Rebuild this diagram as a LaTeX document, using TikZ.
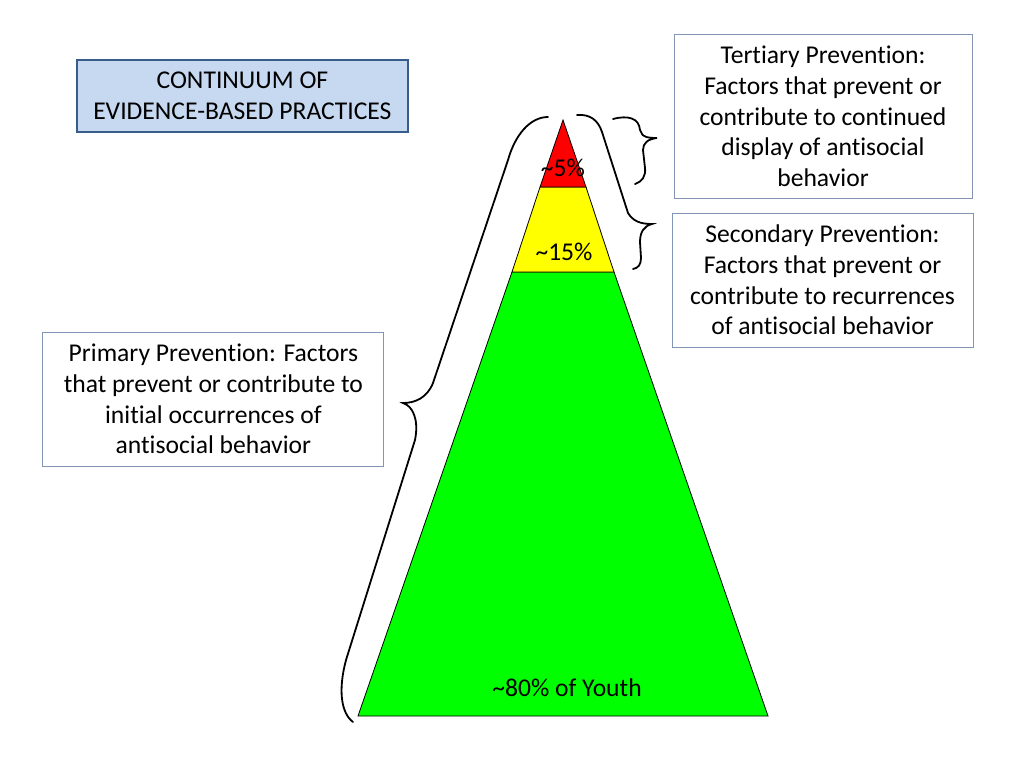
\documentclass[tikz,border=0pt]{standalone}
\usepackage{fontspec}
\setmainfont[Ligatures={NoCommon,NoContextual,NoRare},RawFeature={-liga;-clig;-calt;-dlig}]{Carlito}
\definecolor{titlefill}{RGB}{198,217,241}
\definecolor{titleline}{RGB}{56,93,138}
\definecolor{boxline}{RGB}{130,150,180}
\definecolor{pyred}{RGB}{255,0,0}
\definecolor{pyyellow}{RGB}{255,255,0}
\definecolor{pygreen}{RGB}{0,255,0}
\tikzset{
  txt/.style={font=\fontsize{25.6}{30.7}\selectfont, align=center, inner sep=0pt},
  infobox/.style={txt, draw=boxline, line width=1pt, fill=white},
  titlebox/.style={txt, draw=titleline, line width=1.8pt, fill=titlefill},
  layer/.style={draw=black, line width=0.8pt},
  brace/.style={draw=black, line width=1.8pt, line cap=round}
}
\begin{document}
\begin{tikzpicture}[x=1pt,y=-1pt]
\useasboundingbox (0,0) rectangle (1024,768);
\fill[white] (0,0) rectangle (1024,768);

% pyramid
\path[layer, fill=pygreen] (512,272) -- (614,272) -- (768,716) -- (358,716) -- cycle;
\path[layer, fill=pyyellow] (540,187) -- (586,187) -- (614,272) -- (512,272) -- cycle;
\path[layer, fill=pyred] (563,120) -- (586,187) -- (540,187) -- cycle;

\node[txt] (p5) at (563,168) {\textasciitilde5\%};
\node[txt] (p15) at (564,252) {\textasciitilde15\%};
\node[txt] (p80) at (567,688) {\textasciitilde80\% of Youth};

% boxes
\node[titlebox, minimum width=331pt, minimum height=72pt] (title) at (242.4,95.9)
  {CONTINUUM OF\\EVIDENCE-BASED PRACTICES};
\node[infobox, minimum width=298pt, minimum height=164pt] (tert) at (823,116.5)
  {Tertiary Prevention:\\Factors that prevent or\\contribute to continued\\display of antisocial\\behavior};
\node[infobox, minimum width=301pt, minimum height=134pt] (sec) at (822.5,280)
  {Secondary Prevention:\\Factors that prevent or\\contribute to recurrences\\of antisocial behavior};
\node[infobox, minimum width=341pt, minimum height=134pt] (prim) at (213.4,399)
  {Primary Prevention: Factors\\that prevent or contribute to\\initial occurrences of\\antisocial behavior};

% left brace
\path[brace] (548,117) .. controls (530,117) and (515,135) .. (508,160)
  -- (433,383) .. controls (427,398) and (415,403) .. (403,403)
  .. controls (413,406) and (419,420) .. (415,440)
  -- (346,660) .. controls (338,690) and (341,713) .. (353,722);
% medium brace
\path[brace] (577,115) .. controls (590,114) and (598,120) .. (602,132)
  -- (628,213) .. controls (633,221) and (640,224) .. (652,224)
  .. controls (644,226) and (640,232) .. (640,242)
  -- (641,258) .. controls (641,265) and (638,268) .. (633,269);
% small brace
\path[brace] (613,119) .. controls (628,115) and (639,118) .. (640,130)
  -- (641,132) .. controls (642,137) and (648,138) .. (657,138)
  .. controls (648,139) and (643,143) .. (643,150)
  -- (645,168) .. controls (646,176) and (642,182) .. (635,184);
\end{tikzpicture}
\end{document}
